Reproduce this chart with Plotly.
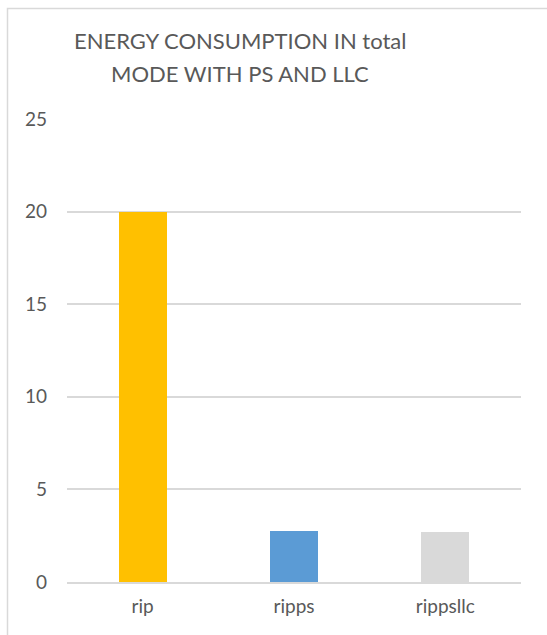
import plotly.graph_objects as go

# Energy consumption per scheme
categories = ["rip", "ripps", "rippsllc"]
energy = [20, 2.75, 2.7]
bar_colors = ["#FFC000", "#5B9BD5", "#D9D9D9"]

title_lines = ["ENERGY CONSUMPTION IN total", "MODE WITH PS AND LLC"]
y_ticks = [0, 5, 10, 15, 20, 25]

W, H = 547, 635
L, R, T, B = 67, 26, 119, 53

text_color = "#595959"
grid_color = "#D9D9D9"
font_family = "Lato, Open Sans, sans-serif"

fig = go.Figure(
    go.Bar(
        x=categories,
        y=energy,
        marker=dict(color=bar_colors, line=dict(width=0)),
        width=0.317,
    )
)

fig.update_layout(
    width=W,
    height=H,
    margin=dict(l=L, r=R, t=T, b=B),
    paper_bgcolor="white",
    plot_bgcolor="white",
    showlegend=False,
    font=dict(family=font_family, color=text_color),
    bargap=0,
)

fig.update_xaxes(
    showgrid=False,
    showline=True,
    linecolor=grid_color,
    linewidth=2,
    ticks="",
    tickfont=dict(size=19, color=text_color),
    ticklabelstandoff=6,
    zeroline=False,
)
fig.update_yaxes(
    range=[0, 25],
    tickvals=y_ticks,
    showgrid=True,
    gridcolor=grid_color,
    gridwidth=1.5,
    zeroline=False,
    showline=False,
    ticks="",
    tickfont=dict(size=19, color=text_color),
    ticklabelstandoff=19,
)

# Two-line title, written as separate lines for the wider spacing
for i, (line, ypx) in enumerate(zip(title_lines, [40, 73])):
    fig.add_annotation(
        text=line,
        xref="paper", yref="paper",
        x=(240 - L) / (W - L - R),
        y=1 + (T - ypx) / (H - T - B),
        xanchor="center", yanchor="middle",
        showarrow=False,
        font=dict(size=22, color=text_color, family=font_family),
    )

# Chart frame (top and left edges visible)
fig.add_shape(
    type="rect",
    xref="paper", yref="paper",
    x0=(7.5 - L) / (W - L - R),
    x1=(W + 10 - L) / (W - L - R),
    y0=-(B + 10) / (H - T - B),
    y1=1 + (T - 8.5) / (H - T - B),
    line=dict(color=grid_color, width=1.5),
    fillcolor="rgba(0,0,0,0)",
    layer="below",
)

fig.write_html("out.html")
